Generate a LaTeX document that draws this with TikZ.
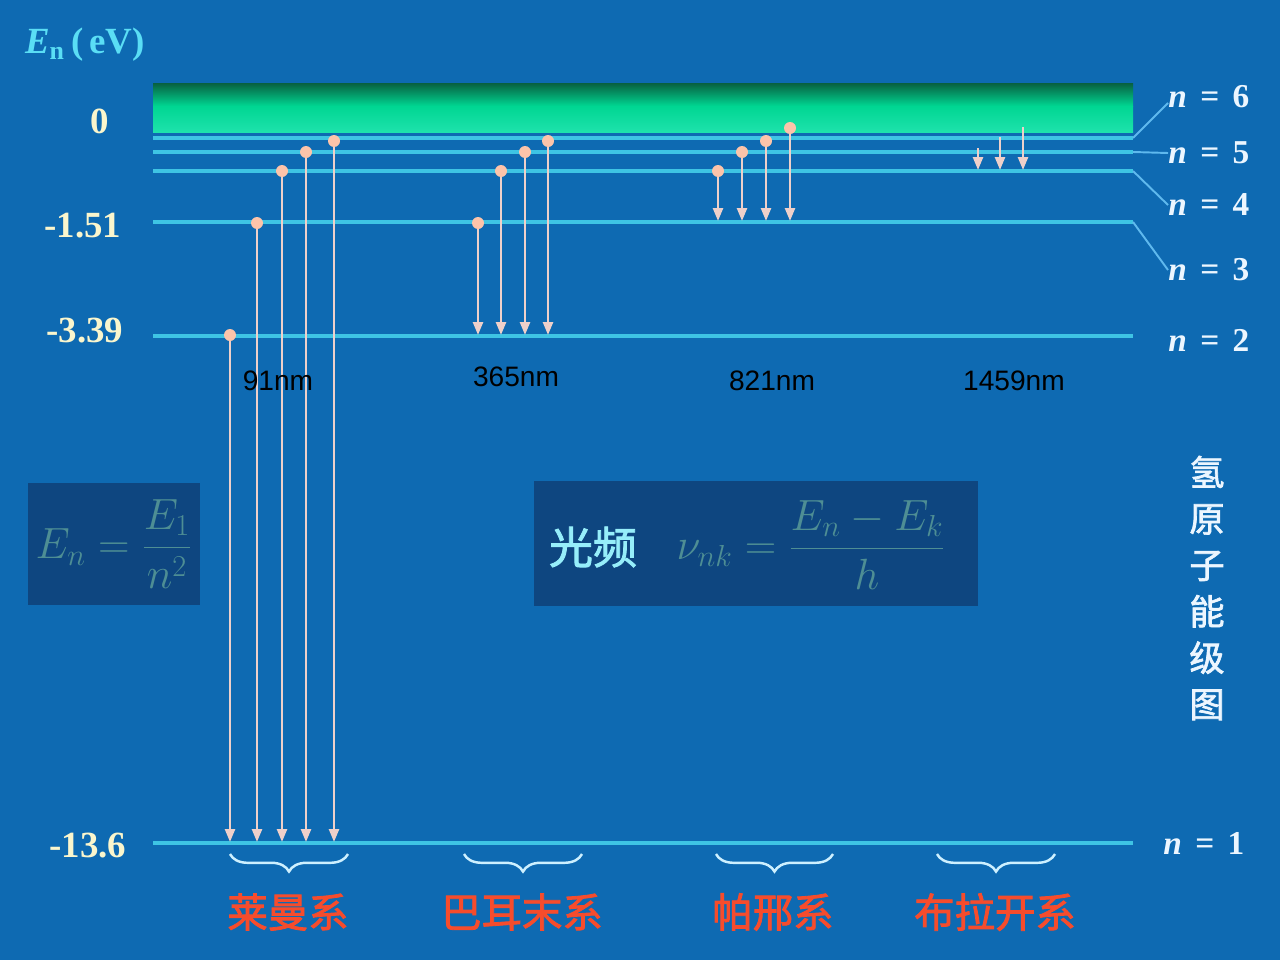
\documentclass[tikz,border=0pt]{standalone}
\usepackage{fontspec}
\setmainfont{Liberation Serif}
\newfontfamily\cjk{Noto Sans CJK SC}
\newfontfamily\cjkb[FakeBold=2]{Noto Sans CJK SC}
\newfontfamily\arial{Liberation Sans}
\usetikzlibrary{arrows.meta,decorations.pathreplacing}
\definecolor{bg}{RGB}{14,106,178}
\definecolor{boxc}{RGB}{14,70,128}
\definecolor{lvl}{RGB}{62,196,228}
\definecolor{lead}{RGB}{95,185,238}
\definecolor{trans}{RGB}{238,208,202}
\definecolor{dotc}{RGB}{252,196,170}
\definecolor{numc}{RGB}{250,246,205}
\definecolor{labc}{RGB}{236,246,255}
\definecolor{axc}{RGB}{90,222,245}
\definecolor{serc}{RGB}{246,76,44}
\definecolor{brc}{RGB}{205,240,255}
\definecolor{fmlc}{RGB}{78,142,148}
\definecolor{gpc}{RGB}{150,238,250}
\definecolor{bandtop}{RGB}{8,96,64}
\definecolor{bandmid}{RGB}{0,214,146}
\definecolor{bandbot}{RGB}{30,226,172}

\begin{document}
\begin{tikzpicture}[
  x=0.02cm, y=-0.02cm,
  >={Triangle[length=2.6mm,width=2mm]},
  every node/.style={inner sep=0pt},
  level/.style={draw=lvl, line width=1.8pt},
  lead/.style={draw=lead, line width=1.1pt},
  tr/.style={draw=trans, line width=1.4pt, ->},
  num/.style={text=numc, font=\fontsize{21}{21}\selectfont\bfseries},
  nlab/.style={text=labc, anchor=west, font=\fontsize{19}{19}\selectfont\bfseries},
  wl/.style={text=black, font=\arial\fontsize{16}{16}\selectfont},
  ser/.style={text=serc, font=\cjkb\fontsize{23}{23}\selectfont},
  br/.style={draw=brc, line width=1.4pt, decorate, decoration={brace, mirror, amplitude=10pt}},
  fml/.style={text=fmlc, font=\fontsize{25}{25}\selectfont},
]
\useasboundingbox (0,0) rectangle (1280,960);
\fill[bg] (0,0) rectangle (1280,960);

% ---------------- continuum band and levels ----------------
\shade[top color=bandtop, bottom color=bandmid] (153,83) rectangle (1133,106);
\shade[top color=bandmid, bottom color=bandbot] (153,106) rectangle (1133,132);

\foreach \n/\y in {1/843, 2/336, 3/222, 4/171, 5/152, 6/138} {
  \coordinate (lvl\n) at (153,\y);
  \coordinate (lvr\n) at (1133,\y);
  \draw[level] (lvl\n) -- (lvr\n);
}

% level labels (right)
\newcommand{\nlv}[1]{{\itshape n}\hspace{0.4em}=\hspace{0.4em}#1}
\node[nlab] (n6) at (1168,97)  {\nlv{6}};
\node[nlab] (n5) at (1168,153) {\nlv{5}};
\node[nlab] (n4) at (1168,205) {\nlv{4}};
\node[nlab] (n3) at (1168,270) {\nlv{3}};
\node[nlab] (n2) at (1168,340) {\nlv{2}};
\node[nlab] (n1) at (1163,843) {\nlv{1}};
\draw[lead] (lvr6) -- ([yshift=-0.12cm]n6.west);
\draw[lead] (lvr5) -- (n5.west);
\draw[lead] (lvr4) -- (n4.west);
\draw[lead] (lvr3) -- (n3.west);

% energy axis (left)
\node[text=axc, font=\fontsize{21}{21}\selectfont\bfseries] (axis) at (85,45)
  {{\itshape E}\textsubscript{n}\,(\,eV)};
\node[num] (e0)  at (100,121) {0};
\node[num] (e3)  at (83,226)  {-1.51};
\node[num] (e2)  at (85,331)  {-3.39};
\node[num] (e1)  at (88,846)  {-13.6};

% ---------------- transitions ----------------
% Lyman: down to n=1
\foreach \x/\a in {230/335, 257/223, 282/171, 306/152, 334/141} {
  \draw[tr] (\x,\a) -- (\x,842);
  \fill[dotc] (\x,\a) circle[radius=0.12cm];
}
% Balmer: down to n=2
\foreach \x/\a in {478/223, 501/171, 525/152, 548/141} {
  \draw[tr] (\x,\a) -- (\x,335);
  \fill[dotc] (\x,\a) circle[radius=0.12cm];
}
% Paschen: down to n=3
\foreach \x/\a in {718/171, 742/152, 766/141, 790/128} {
  \draw[tr] (\x,\a) -- (\x,221);
  \fill[dotc] (\x,\a) circle[radius=0.12cm];
}
% Brackett: down to n=4, no dots
\foreach \x/\a in {978/148, 1000/137, 1023/127} {
  \draw[tr] (\x,\a) -- (\x,170);
}

% wavelengths
\node[wl] (w1) at (278,381)  {91nm};
\node[wl] (w2) at (516,377)  {365nm};
\node[wl] (w3) at (772,381)  {821nm};
\node[wl] (w4) at (1014,381) {1459nm};

% ---------------- series braces and names ----------------
\draw[br] (230,854) -- (348,854);
\draw[br] (464,854) -- (582,854);
\draw[br] (716,854) -- (833,854);
\draw[br] (937,854) -- (1055,854);
\node[ser] (ly) at (288,912) {莱曼系};
\node[ser] (ba) at (522,912) {巴耳末系};
\node[ser] (pa) at (773,912) {帕邢系};
\node[ser] (bk) at (995,912) {布拉开系};

% ---------------- formula boxes ----------------
\fill[boxc] (28,483) rectangle (200,605);
\node[fml] (fen) at (114,544) {$\displaystyle E_n=\frac{E_1}{n^2}$};
\fill[boxc] (534,481) rectangle (978,606);
\node[text=gpc, font=\cjkb\fontsize{25}{25}\selectfont] (gp) at (593,547) {光频};
\node[fml] (fnu) at (811,545) {$\displaystyle \nu_{nk}=\frac{E_n-E_k}{h}$};

% title (vertical)
\node[text=labc, align=center, font=\cjkb\fontsize{20}{26.4}\selectfont] (ttl) at (1207,588)
  {氢\\原\\子\\能\\级\\图};

\end{tikzpicture}
\end{document}
